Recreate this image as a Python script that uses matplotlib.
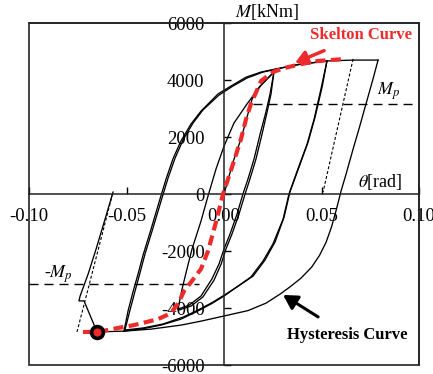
import matplotlib
matplotlib.use('Agg')
import matplotlib.pyplot as plt
from matplotlib.patches import Rectangle

plt.rcParams['font.family'] = ['Liberation Serif', 'DejaVu Serif']
plt.rcParams['mathtext.fontset'] = 'stix'

# skeleton curve (red dashed)
skel_theta = [-0.0723, -0.0646, -0.0544, -0.0462, -0.0338, -0.0272, -0.0231, -0.0205,
              -0.0169, -0.0118, -0.0082, -0.0041, -0.0005, 0.0046, 0.0087, 0.0113,
              0.0138, 0.0190, 0.0251, 0.0308, 0.0395, 0.0482, 0.0626]
skel_M = [-4840, -4840, -4700, -4600, -4390, -4180, -3790, -3400, -3090, -2630, -2000,
          -980, 0, 1050, 1930, 2630, 3160, 3970, 4280, 4420, 4560, 4670, 4740]

# hysteresis branches (black)
virgin_theta = [0.0, 0.0046, 0.0087, 0.0118, 0.0144, 0.0180, 0.0241, 0.0256]
virgin_M = [0, 1120, 1930, 2700, 3330, 3750, 4180, 4280]

loop2_up_theta = [-0.0236, -0.0215, -0.0190, -0.0164, -0.0118, -0.0082, -0.0041, 0.0,
                  0.0051, 0.0118, 0.0190, 0.0256]
loop2_up_M = [-4035, -3330, -2630, -1930, -950, -70, 880, 1680, 2490, 3160, 3820, 4280]

loop2_dn_theta = [0.0256, 0.0236, 0.0215, 0.0185, 0.0154, 0.0123, 0.0097, 0.0067, 0.0031,
                  0.0, -0.0026, -0.0062, -0.0118, -0.0179, -0.0236]
loop2_dn_M = [4280, 3510, 2880, 2100, 1230, 530, 0, -700, -1400, -1930, -2460, -2980,
              -3580, -3900, -4035]

loop2_dn2_theta = [0.0256, 0.0241, 0.0221, 0.0195, 0.0164, 0.0133, 0.0108, 0.0077, 0.0041,
                   0.0010, -0.0015, -0.0051, -0.0108, -0.0169, -0.0231]
loop2_dn2_M = [4280, 3510, 2880, 2100, 1230, 530, 0, -700, -1400, -1930, -2460, -3020,
               -3610, -3930, -4070]

loop3_up_theta = [-0.0513, -0.0492, -0.0467, -0.0441, -0.0415, -0.0374, -0.0333, -0.0297,
                  -0.0262, -0.0221, -0.0169, -0.0118, -0.0031, 0.0036, 0.0113, 0.0190,
                  0.0267, 0.0369, 0.0528]
loop3_up_M = [-4810, -4100, -3440, -2810, -2140, -1230, -280, 530, 1230, 1860, 2460, 2910,
              3510, 3790, 4100, 4280, 4390, 4530, 4670]

loop4_up_theta = [-0.0508, -0.0482, -0.0456, -0.0431, -0.0405, -0.0364, -0.0323, -0.0287,
                  -0.0251, -0.0210, -0.0159, -0.0108, -0.0026, 0.0046, 0.0118, 0.0200,
                  0.0292, 0.0395, 0.0528, 0.0662, 0.0790]
loop4_up_M = [-4770, -4070, -3400, -2770, -2100, -1190, -250, 560, 1260, 1900, 2490, 2950,
              3470, 3790, 4070, 4280, 4420, 4560, 4670, 4700, 4700]

loop3_dn_theta = [0.0528, 0.0497, 0.0462, 0.0426, 0.0379, 0.0333, 0.0303, 0.0251, 0.0200,
                  0.0138, 0.0072, 0.0, -0.0067, -0.0144, -0.0221, -0.0323, -0.0426, -0.0513]
loop3_dn_M = [4670, 3680, 2630, 1750, 880, 0, -880, -1750, -2350, -2910, -3230, -3580,
              -3860, -4140, -4390, -4600, -4740, -4810]

loop3_dn2_theta = [0.0528, 0.0503, 0.0467, 0.0431, 0.0385, 0.0338, 0.0308, 0.0262, 0.0210,
                   0.0149, 0.0082, 0.0010, -0.0056, -0.0133, -0.0210, -0.0313, -0.0415,
                   -0.0508]
loop3_dn2_M = [4670, 3750, 2700, 1820, 950, 70, -810, -1680, -2320, -2880, -3190, -3510,
               -3790, -4070, -4320, -4560, -4700, -4770]

loop4_dn_theta = [0.0790, 0.0764, 0.0728, 0.0692, 0.0662, 0.0626, 0.0600, 0.0574, 0.0551,
                  0.0523, 0.0490, 0.0450, 0.0395, 0.0340, 0.0290, 0.0215, 0.0123, 0.0,
                  -0.0118, -0.0221, -0.0374, -0.0513, -0.0651]
loop4_dn_M = [4700, 4035, 3160, 2280, 1580, 700, 100, -600, -1160, -1700, -2150, -2560,
              -2950, -3250, -3500, -3830, -4090, -4280, -4460, -4600, -4740, -4810, -4840]

final_theta = [-0.0651, -0.0718, -0.0744, -0.0738, -0.0697, -0.0656, -0.0610, -0.0569]
final_M = [-4840, -3750, -3750, -3580, -2810, -1930, -880, 70]

# elastic unloading references (thin dotted)
ref_r_theta = [0.0662, 0.0508]
ref_r_M = [4740, 70]
ref_l_theta = [-0.0754, -0.0569]
ref_l_M = [-4840, 70]

Mp = 3150
fracture = (-0.0651, -4840)

red = '#ee2a2a'

fig = plt.figure(figsize=(4.33, 3.74), dpi=100)
ax = fig.add_axes([0.067, 0.024, 0.9007, 0.9144])
ax.set_xlim(-0.1, 0.1)
ax.set_ylim(-6000, 6000)

branches = [(virgin_theta, virgin_M), (loop2_up_theta, loop2_up_M),
            (loop2_dn_theta, loop2_dn_M), (loop2_dn2_theta, loop2_dn2_M),
            (loop3_up_theta, loop3_up_M), (loop4_up_theta, loop4_up_M),
            (loop3_dn_theta, loop3_dn_M), (loop3_dn2_theta, loop3_dn2_M),
            (loop4_dn_theta, loop4_dn_M), (final_theta, final_M)]
for th, m in branches:
    ax.plot(th, m, color='black', lw=0.95, solid_joinstyle='round')

for th, m in [(ref_r_theta, ref_r_M), (ref_l_theta, ref_l_M)]:
    ax.plot(th, m, color='black', lw=0.8, linestyle=(0, (2.7, 1.8)))

# +/- Mp lines
ax.plot([0.0149, 0.1], [Mp, Mp], color='black', lw=1.0, linestyle=(0, (6.5, 4.3)))
ax.plot([-0.1, -0.013], [-Mp, -Mp], color='black', lw=1.0, linestyle=(0, (6.5, 4.3)))

ax.plot(skel_theta, skel_M, color=red, lw=3.0, linestyle=(0, (2.4, 1.3)),
        dash_capstyle='butt', zorder=4)
ax.plot(*fracture, marker='o', ms=8.5, mfc=red, mec='black', mew=2.6, zorder=5)

# axes through origin + outer frame
ax.spines['left'].set_position(('data', 0))
ax.spines['bottom'].set_position(('data', 0))
for s in ax.spines.values():
    s.set_linewidth(1.1)
    s.set_color('#222222')
ax.add_patch(Rectangle((0, 0), 1, 1, transform=ax.transAxes, fill=False,
                       lw=1.2, ec='#222222', clip_on=False))
ax.set_axisbelow(True)

ax.set_xticks([-0.1, -0.05, 0, 0.05, 0.1])
ax.set_xticklabels(['-0.10', '-0.05', '0.00', '0.05', '0.10'])
ax.set_yticks([-6000, -4000, -2000, 0, 2000, 4000, 6000])
ax.set_yticklabels(['-6000', '-4000', '-2000', '0', '2000', '4000', '6000'])
ax.tick_params(direction='in', length=5, width=1.0, labelsize=13.5)
ax.tick_params(axis='y', pad=14)
ax.tick_params(axis='x', pad=10)

ax.text(0.022, 6390, r'$M$[kNm]', fontsize=13, ha='center', va='center')
ax.text(0.080, 420, r'$\theta$[rad]', fontsize=13, ha='center', va='center')
ax.text(0.0846, 3620, r'$M_p$', fontsize=13, ha='center', va='center')
ax.text(-0.085, -2810, r'-$M_p$', fontsize=13, ha='center', va='center')

ax.annotate('Skelton Curve', xy=(0.0364, 4600), xytext=(0.0703, 5580),
            fontsize=12, fontweight='bold', color=red, ha='center', va='center',
            arrowprops=dict(arrowstyle='-|>,head_length=0.6,head_width=0.35',
                            color=red, lw=2.5, shrinkA=9, shrinkB=0))
ax.annotate('Hysteresis Curve', xy=(0.0303, -3540), xytext=(0.0631, -4950),
            fontsize=12, fontweight='bold', color='black', ha='center', va='center',
            arrowprops=dict(arrowstyle='-|>,head_length=0.7,head_width=0.4',
                            color='black', lw=2.2, shrinkA=10, shrinkB=0))

fig.savefig('out.png', dpi=100)
